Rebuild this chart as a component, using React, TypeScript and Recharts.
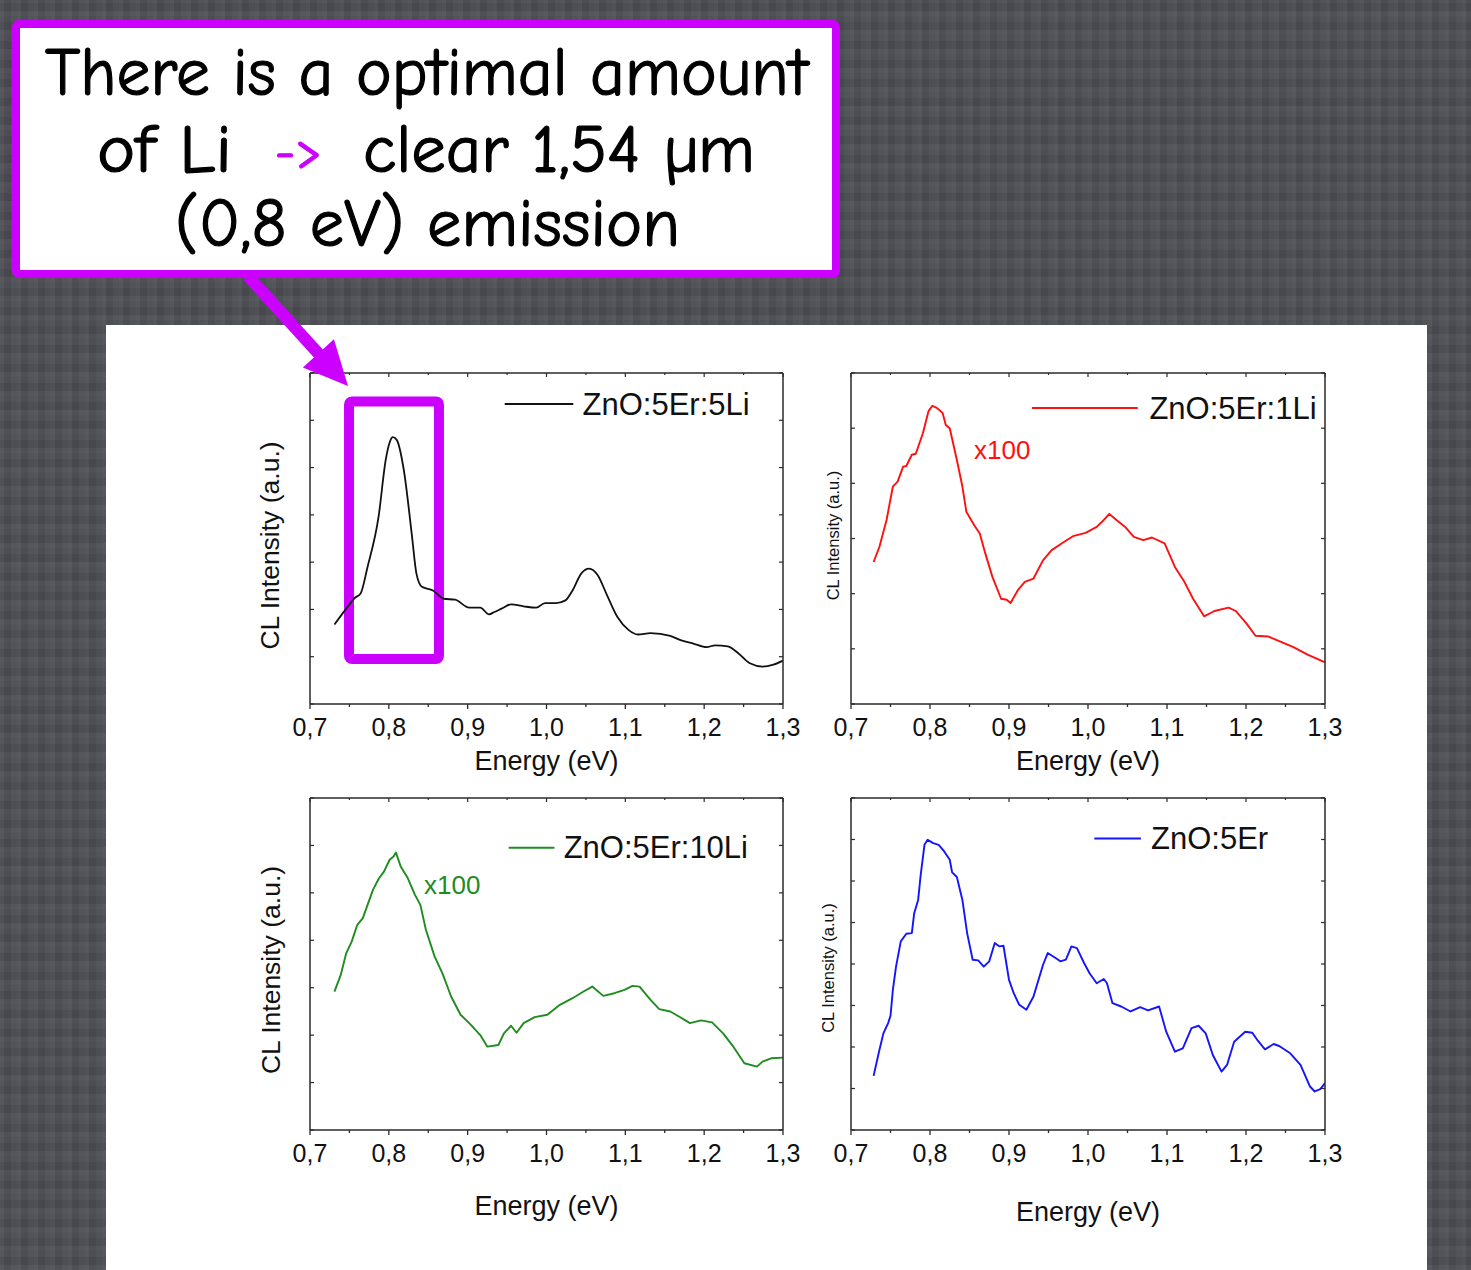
import React from 'react';
import { LineChart, Line, XAxis, YAxis, ReferenceArea, ReferenceDot, ReferenceLine } from 'recharts';

// ---------- tick definitions ----------
const majorTicks = [0.7, 0.8, 0.9, 1.0, 1.1, 1.2, 1.3];
const majorTickLabels = ['0,7', '0,8', '0,9', '1,0', '1,1', '1,2', '1,3'];
const minorTicks = [0.75, 0.85, 0.95, 1.05, 1.15, 1.25];
const xTicks = [...majorTicks, ...minorTicks].sort((a, b) => a - b);

const yTicks7 = [0, 14.29, 28.57, 42.86, 57.14, 71.43, 85.71, 100];
const yTicks6 = [0, 16.67, 33.33, 50, 66.67, 83.33, 100];
const yTicks8 = [0, 12.5, 25, 37.5, 50, 62.5, 75, 87.5, 100];

// ---------- series names ----------
const names = ['ZnO:5Er:5Li', 'ZnO:5Er:1Li', 'ZnO:5Er:10Li', 'ZnO:5Er'];

// ---------- ZnO:5Er:5Li (black) ----------
const li5E = [0.731, 0.746, 0.757, 0.764, 0.773, 0.787, 0.796, 0.801, 0.805, 0.810, 0.819, 0.829, 0.835, 0.842, 0.856, 0.870, 0.884, 0.902, 0.916, 0.927, 0.934, 0.943, 0.955, 0.971, 0.987, 0.998, 1.012, 1.024, 1.033, 1.044, 1.054, 1.065, 1.076, 1.090, 1.104, 1.116, 1.132, 1.157, 1.171, 1.187, 1.203, 1.214, 1.230, 1.244, 1.258, 1.274, 1.288, 1.300];
const li5V = [24.0, 28.8, 32.1, 33.3, 41.4, 56.6, 73.7, 79.0, 80.6, 79.8, 70.7, 51.5, 39.4, 35.4, 34.3, 31.8, 31.5, 29.1, 29.1, 27.1, 27.8, 28.8, 30.1, 29.5, 29.1, 30.5, 30.5, 31.3, 34.3, 39.4, 40.9, 38.9, 33.3, 26.3, 22.4, 21.0, 21.4, 20.6, 19.2, 18.2, 17.2, 17.7, 17.4, 15.2, 12.3, 11.3, 11.9, 13.1];

// ---------- ZnO:5Er:1Li (red) ----------
const li1E = [0.7286, 0.736, 0.745, 0.753, 0.759, 0.766, 0.770, 0.777, 0.782, 0.791, 0.798, 0.803, 0.809, 0.816, 0.820, 0.825, 0.834, 0.841, 0.846, 0.856, 0.863, 0.870, 0.879, 0.890, 0.897, 0.902, 0.911, 0.920, 0.931, 0.943, 0.954, 0.968, 0.981, 0.997, 1.011, 1.020, 1.027, 1.036, 1.047, 1.058, 1.070, 1.081, 1.097, 1.110, 1.122, 1.133, 1.147, 1.160, 1.178, 1.187, 1.201, 1.212, 1.228, 1.242, 1.260, 1.278, 1.300];
const li1V = [42.9, 47.5, 55.6, 65.7, 67.2, 71.7, 71.9, 75.3, 75.6, 81.8, 88.4, 90.1, 89.4, 87.9, 84.3, 83.3, 73.7, 65.7, 58.1, 54.0, 51.5, 45.5, 38.4, 31.8, 31.5, 30.5, 34.3, 36.9, 37.9, 43.4, 46.5, 48.7, 50.7, 51.7, 53.5, 55.6, 57.4, 55.6, 53.5, 50.5, 49.5, 50.3, 48.5, 41.4, 36.9, 31.8, 26.5, 28.1, 29.1, 28.1, 24.2, 20.6, 20.4, 19.0, 17.2, 14.9, 12.6];

// ---------- ZnO:5Er:10Li (green) ----------
const li10E = [0.731, 0.739, 0.746, 0.753, 0.760, 0.767, 0.773, 0.780, 0.787, 0.794, 0.801, 0.806, 0.809, 0.815, 0.824, 0.833, 0.840, 0.847, 0.858, 0.868, 0.879, 0.891, 0.902, 0.916, 0.925, 0.939, 0.946, 0.955, 0.962, 0.971, 0.985, 1.001, 1.017, 1.033, 1.047, 1.058, 1.072, 1.086, 1.099, 1.109, 1.118, 1.132, 1.143, 1.157, 1.168, 1.182, 1.196, 1.210, 1.224, 1.237, 1.251, 1.267, 1.274, 1.285, 1.300];
const li10V = [41.7, 46.7, 53.3, 56.8, 61.8, 63.8, 67.8, 72.4, 75.6, 77.9, 81.4, 82.4, 83.6, 79.4, 75.9, 70.9, 67.8, 60.3, 52.3, 47.2, 40.2, 34.7, 32.2, 28.6, 25.1, 25.6, 29.1, 31.4, 29.3, 32.2, 34.0, 34.7, 37.7, 39.7, 41.7, 43.2, 40.4, 41.2, 42.2, 43.4, 43.2, 39.2, 36.4, 35.7, 34.2, 32.2, 33.0, 32.4, 29.1, 25.1, 20.1, 19.1, 20.6, 21.6, 21.8];

// ---------- ZnO:5Er (blue) ----------
const er5E = [0.7286, 0.735, 0.741, 0.747, 0.750, 0.753, 0.757, 0.763, 0.770, 0.777, 0.780, 0.785, 0.788, 0.793, 0.797, 0.804, 0.811, 0.818, 0.825, 0.828, 0.834, 0.841, 0.847, 0.854, 0.861, 0.868, 0.875, 0.882, 0.888, 0.893, 0.900, 0.906, 0.913, 0.922, 0.931, 0.943, 0.949, 0.959, 0.965, 0.972, 0.979, 0.986, 0.995, 1.002, 1.011, 1.020, 1.024, 1.031, 1.042, 1.054, 1.066, 1.076, 1.090, 1.099, 1.110, 1.120, 1.131, 1.140, 1.149, 1.158, 1.169, 1.176, 1.185, 1.199, 1.208, 1.215, 1.224, 1.235, 1.242, 1.256, 1.269, 1.281, 1.287, 1.294, 1.300];
const er5V = [16.3, 23.1, 29.1, 32.2, 34.4, 42.2, 49.2, 56.8, 59.1, 59.3, 65.3, 69.3, 76.4, 85.9, 87.4, 86.4, 85.9, 83.9, 81.4, 77.6, 76.2, 69.3, 59.3, 51.3, 51.1, 49.2, 50.8, 56.3, 55.3, 55.5, 45.2, 41.2, 37.7, 36.2, 40.2, 49.7, 53.3, 51.8, 50.8, 51.3, 55.3, 54.8, 50.3, 47.2, 44.2, 45.5, 44.2, 38.2, 37.2, 35.7, 37.0, 36.0, 37.2, 29.6, 23.6, 24.6, 30.7, 31.4, 29.1, 22.6, 17.6, 19.6, 26.6, 29.6, 29.3, 26.9, 24.3, 25.9, 25.3, 23.1, 19.6, 13.1, 11.6, 12.3, 14.1];

const toData = (es: number[], vs: number[]) => es.map((e, i) => ({ e, v: vs[i] }));

const FONT = '"Liberation Sans", Arial, Helvetica, sans-serif';
const AXIS = '#2a2a2a';

const isMajor = (v: number) => majorTicks.some((m) => Math.abs(m - v) < 1e-6);
const majorLabel = (v: number) => majorTickLabels[majorTicks.findIndex((m) => Math.abs(m - v) < 1e-6)];

const BottomTick = (props: any) => {
  const { x, y, payload } = props;
  const major = isMajor(payload.value);
  return (
    <g>
      <line x1={x} x2={x} y1={y} y2={y + (major ? 5 : 3)} stroke={AXIS} strokeWidth={1.3} />
      {major && (
        <text x={x} y={y + 32} textAnchor="middle" fontSize={25} fontFamily={FONT} fill="#111">
          {majorLabel(payload.value)}
        </text>
      )}
    </g>
  );
};

const TopTick = (props: any) => {
  const { x, y, payload } = props;
  const major = isMajor(payload.value);
  return <line x1={x} x2={x} y1={y} y2={y + (major ? 4 : 2)} stroke={AXIS} strokeWidth={1.2} />;
};

const LeftTick = (props: any) => {
  const { x, y } = props;
  return <line x1={x} x2={x + 4} y1={y} y2={y} stroke={AXIS} strokeWidth={1.2} />;
};

const RightTick = (props: any) => {
  const { x, y } = props;
  return <line x1={x} x2={x - 4} y1={y} y2={y} stroke={AXIS} strokeWidth={1.2} />;
};

type PanelProps = {
  plotLeft: number;
  plotTop: number;
  plotW: number;
  plotH: number;
  data: { e: number; v: number }[];
  color: string;
  curve: 'monotone' | 'linear';
  name: string;
  legX1: number;
  legX2: number;
  legTextX: number;
  legY: number;
  yTicks: number[];
  yLabelSize: number;
  yLabelDx: number;
  yLabelDy: number;
  energyBase: number;
  x100?: { x: number; y: number };
  highlight?: { x1: number; x2: number; y1: number; y2: number };
};

const YAW = 70;
const XAH = 100;
const MR = 30;

const Panel = (p: PanelProps) => {
  const W = p.plotW + YAW + 1 + MR;
  const H = p.plotH + 10 + XAH;
  const yLabel = (props: any) => {
    const vb = props.viewBox;
    const cx = vb.x + vb.width / 2 + p.yLabelDx;
    const cy = vb.y + vb.height / 2 + p.yLabelDy;
    return (
      <text x={cx} y={cy} transform={`rotate(-90 ${cx} ${cy})`} textAnchor="middle" dominantBaseline="central"
        fontSize={p.yLabelSize} fontFamily={FONT} fill="#111">
        CL Intensity (a.u.)
      </text>
    );
  };
  const xLabel = (props: any) => {
    const vb = props.viewBox;
    return (
      <text x={vb.x + vb.width / 2} y={vb.y + p.energyBase} textAnchor="middle" fontSize={27} fontFamily={FONT} fill="#111">
        Energy (eV)
      </text>
    );
  };
  const legendText = (props: any) => {
    const vb = props.viewBox;
    return (
      <text x={vb.x} y={vb.y + (vb.height || 0) / 2} dominantBaseline="central" fontSize={31} fontFamily={FONT} fill="#111">
        {p.name}
      </text>
    );
  };
  const x100Text = (props: any) => {
    const vb = props.viewBox;
    return (
      <text x={vb.x} y={vb.y + (vb.height || 0) / 2} dominantBaseline="central" fontSize={26} fontFamily={FONT} fill={p.color}>
        x100
      </text>
    );
  };
  return (
    <div style={{ position: 'absolute', left: p.plotLeft - YAW, top: p.plotTop - 10 }}>
      <LineChart width={W} height={H} data={p.data} margin={{ top: 9, right: MR, left: 0, bottom: 0 }}>
        <XAxis
          dataKey="e"
          type="number"
          domain={[0.7, 1.3]}
          ticks={xTicks}
          interval={0}
          allowDataOverflow
          height={XAH}
          tickSize={0}
          tickMargin={0}
          tickLine={false}
          axisLine={{ stroke: AXIS, strokeWidth: 1.5 }}
          tick={<BottomTick />}
          label={{ content: xLabel }}
        />
        <XAxis
          xAxisId="top"
          orientation="top"
          dataKey="e"
          type="number"
          domain={[0.7, 1.3]}
          ticks={xTicks}
          interval={0}
          allowDataOverflow
          height={1}
          tickSize={0}
          tickMargin={0}
          tickLine={false}
          axisLine={{ stroke: AXIS, strokeWidth: 1.5 }}
          tick={<TopTick />}
        />
        <YAxis
          type="number"
          domain={[0, 100]}
          ticks={p.yTicks}
          interval={0}
          allowDataOverflow
          width={YAW}
          tickSize={0}
          tickMargin={0}
          tickLine={false}
          axisLine={{ stroke: AXIS, strokeWidth: 1.5 }}
          tick={<LeftTick />}
          label={{ content: yLabel }}
        />
        <YAxis
          yAxisId="right"
          orientation="right"
          type="number"
          domain={[0, 100]}
          ticks={p.yTicks}
          interval={0}
          allowDataOverflow
          width={1}
          tickSize={0}
          tickMargin={0}
          tickLine={false}
          axisLine={{ stroke: AXIS, strokeWidth: 1.5 }}
          tick={<RightTick />}
        />
        <Line
          dataKey="v"
          type={p.curve}
          stroke={p.color}
          strokeWidth={p.curve === 'monotone' ? 1.8 : 1.9}
          strokeLinejoin="round"
          dot={false}
          activeDot={false}
          isAnimationActive={false}
        />
        <ReferenceLine
          segment={[{ x: p.legX1, y: p.legY }, { x: p.legX2, y: p.legY }]}
          stroke={p.color}
          strokeWidth={2}
          ifOverflow="visible"
        />
        <ReferenceDot x={p.legTextX} y={p.legY} r={1} fill="none" stroke="none" ifOverflow="visible" label={{ content: legendText }} />
        {p.x100 && (
          <ReferenceDot x={p.x100.x} y={p.x100.y} r={1} fill="none" stroke="none" ifOverflow="visible" label={{ content: x100Text }} />
        )}
        {p.highlight && (
          <ReferenceArea
            x1={p.highlight.x1}
            x2={p.highlight.x2}
            y1={p.highlight.y1}
            y2={p.highlight.y2}
            fill="none"
            fillOpacity={0}
            stroke="#cc00ff"
            strokeWidth={10}
            strokeOpacity={1}
            radius={3}
            ifOverflow="visible"
          />
        )}
      </LineChart>
    </div>
  );
};

const MAGENTA = '#cc00ff';
const CALLOUT_FONT = '"Comic Sans MS", "Comic Neue", Lato, "Open Sans", sans-serif';

const Overlay = () => {
  const tip = { x: 348, y: 386 };
  const tail = { x: 248, y: 276 };
  const dx = tip.x - tail.x;
  const dy = tip.y - tail.y;
  const len = Math.sqrt(dx * dx + dy * dy);
  const ux = dx / len;
  const uy = dy / len;
  const headLen = 44;
  const headHalf = 21;
  const bx = tip.x - ux * headLen;
  const by = tip.y - uy * headLen;
  const px = -uy;
  const py = ux;
  const head = `${tip.x},${tip.y} ${bx + px * headHalf},${by + py * headHalf} ${bx - px * headHalf},${by - py * headHalf}`;
  return (
    <svg width={1471} height={1270} style={{ position: 'absolute', left: 0, top: 0, pointerEvents: 'none' }}>
      <line x1={tail.x} y1={tail.y} x2={bx + ux * 2} y2={by + uy * 2} stroke={MAGENTA} strokeWidth={12} />
      <polygon points={head} fill={MAGENTA} />
      <rect x={16} y={24} width={820} height={250} rx={3} fill="#ffffff" stroke={MAGENTA} strokeWidth={8} />
      <g fontFamily={CALLOUT_FONT} fontSize={68} fill="#000" stroke="#000" strokeWidth={1.2}>
        <text x={45} y={95} textLength={763} lengthAdjust="spacingAndGlyphs">There is a optimal amount</text>
        <text x={97} y={172} textLength={135} lengthAdjust="spacingAndGlyphs">of Li</text>
        <text x={275} y={168} textLength={47} lengthAdjust="spacingAndGlyphs" fill={MAGENTA} stroke={MAGENTA} fontSize={52}>-&gt;</text>
        <text x={363} y={172} textLength={392} lengthAdjust="spacingAndGlyphs">clear 1,54 µm</text>
        <text x={175} y={246} textLength={505} lengthAdjust="spacingAndGlyphs">(0,8 eV) emission</text>
      </g>
    </svg>
  );
};

export default function App() {
  return (
    <div
      style={{
        position: 'absolute',
        left: 0,
        top: 0,
        width: 1471,
        height: 1270,
        overflow: 'hidden',
        backgroundColor: '#4c4e54',
        backgroundImage:
          'repeating-linear-gradient(90deg, rgba(255,255,255,0.035) 0px, rgba(255,255,255,0.035) 4px, rgba(0,0,0,0.04) 4px, rgba(0,0,0,0.04) 11px, rgba(255,255,255,0.02) 11px, rgba(255,255,255,0.02) 17px), repeating-linear-gradient(0deg, rgba(255,255,255,0.03) 0px, rgba(255,255,255,0.03) 5px, rgba(0,0,0,0.045) 5px, rgba(0,0,0,0.045) 13px, rgba(255,255,255,0.015) 13px, rgba(255,255,255,0.015) 19px)',
      }}
    >
      <div style={{ position: 'absolute', left: 106, top: 325, width: 1321, height: 945, background: '#ffffff' }} />
      <Panel
        plotLeft={310} plotTop={373} plotW={473} plotH={331}
        data={toData(li5E, li5V)} color="#111111" curve="monotone" name={names[0]}
        legX1={0.947} legX2={1.034} legTextX={1.047} legY={90.6}
        yTicks={yTicks7} yLabelSize={26.5} yLabelDx={-5} yLabelDy={7} energyBase={66}
        highlight={{ x1: 0.7495, x2: 0.8636, y1: 13.6, y2: 91.4 }}
      />
      <Panel
        plotLeft={851} plotTop={373} plotW={474} plotH={331}
        data={toData(li1E, li1V)} color="#ff1010" curve="linear" name={names[1]}
        legX1={0.929} legX2={1.063} legTextX={1.079} legY={89.4}
        yTicks={yTicks6} yLabelSize={16.5} yLabelDx={17} yLabelDy={-3} energyBase={66}
        x100={{ x: 0.857, y: 76.7 }}
      />
      <Panel
        plotLeft={310} plotTop={798} plotW={473} plotH={332}
        data={toData(li10E, li10V)} color="#1e8c1e" curve="linear" name={names[2]}
        legX1={0.952} legX2={1.010} legTextX={1.023} legY={85}
        yTicks={yTicks7} yLabelSize={26.5} yLabelDx={-4} yLabelDy={6} energyBase={85}
        x100={{ x: 0.846, y: 73.7 }}
      />
      <Panel
        plotLeft={851} plotTop={798} plotW={474} plotH={332}
        data={toData(er5E, er5V)} color="#1414ff" curve="linear" name={names[3]}
        legX1={1.008} legX2={1.067} legTextX={1.081} legY={87.8}
        yTicks={yTicks8} yLabelSize={16.5} yLabelDx={12} yLabelDy={4} energyBase={91}
      />
      <Overlay />
    </div>
  );
}
